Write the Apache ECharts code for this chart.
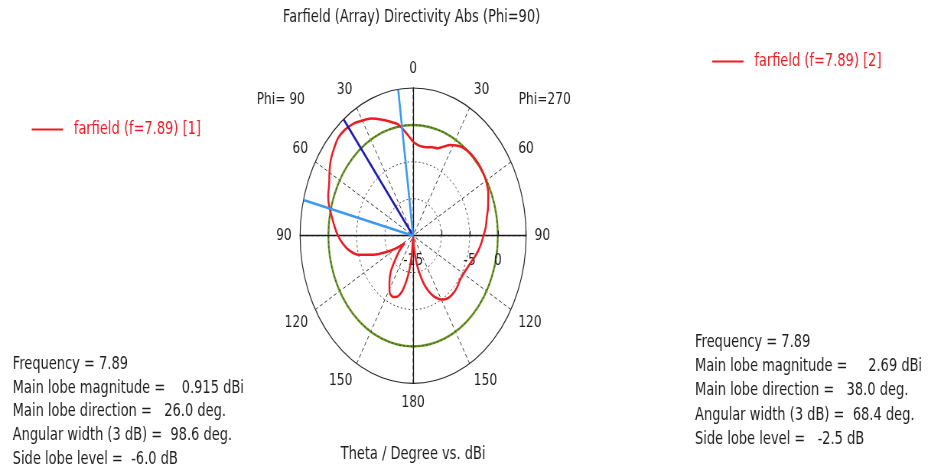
<!DOCTYPE html>
<html>
<head>
<meta charset="utf-8">
<script src="https://cdn.jsdelivr.net/npm/echarts@6/dist/echarts.min.js"></script>
<style>
  html, body { margin: 0; padding: 0; background: #ffffff; overflow: hidden; }
  #stage { width: 932px; height: 464px; overflow: hidden; position: relative; }
  /* the plot is drawn on a wider canvas and squeezed horizontally */
  #chart { width: 1218px; height: 464px; transform: scaleX(0.765); transform-origin: 0 0; }
</style>
</head>
<body>
<div id="stage"><div id="chart"></div></div>
<script>
// Farfield cut, theta in degrees on each half-plane, directivity in dBi
const phi90Theta = [0, 5, 10, 15, 20, 25, 30, 35, 40, 45, 50, 55, 60, 65, 70, 75, 80, 85, 90,
  95, 100, 105, 110, 115, 120, 124, 130, 136, 141, 147, 152, 157, 161, 166, 171, 175, 180];
const phi90Dbi = [-2.3, -1.05, 0.3, 1.0, 1.75, 2.5, 3.0, 3.5, 3.75, 3.75, 3.3, 2.8, 2.1, 1.4, 1.0, 0.4, -0.4, -1.05, -1.7,
  -2.5, -3.5, -5.0, -7.5, -9.8, -11.7, -13.2, -11.8, -10.4, -8.7, -7.3, -6.2, -6.0, -6.25, -7.4, -9.8, -12.5, -15];

const phi270Theta = [0, 4, 8, 12, 16, 20, 24, 28, 32, 36, 42, 47, 52, 57, 61, 66, 70, 75, 79, 85, 90,
  95, 100, 105, 110, 115, 120, 126, 132, 137, 143, 148, 152, 156, 160, 164, 168, 171, 175, 180];
const phi270Dbi = [-2.3, -2.7, -2.85, -2.75, -2.55, -2.4, -1.8, -1.1, -0.6, -0.2, 0.05, 0.12, 0.1, 0.0, -0.15, -0.45, -0.85, -1.3, -1.7, -2.1, -2.55,
  -2.9, -3.3, -3.75, -4.2, -4.5, -4.7, -4.75, -4.55, -4.45, -4.5, -4.8, -5.3, -6.0, -7.0, -8.3, -10.0, -11.5, -13.5, -15];

// radial scale (dBi) and the labelled rings
const radiusMin = -15;
const radiusMax = 5;
const radiusStep = 5;
const radiusLabelValues = [-15, -5, 0];
const referenceRing = 0;

// theta ticks
const thetaStep = 30;

// main lobe markers
const mainLobeDirection = 38.0;
const beamEdges = [7.6, 76.0];

const seriesNames = ['farfield (f=7.89) [1]', 'farfield (f=7.89) [2]'];

const statsLeft = [
  'Frequency = 7.89',
  'Main lobe magnitude =    0.915 dBi',
  'Main lobe direction =   26.0 deg.',
  'Angular width (3 dB) =  98.6 deg.',
  'Side lobe level =  -6.0 dB'
];
const statsRight = [
  'Frequency = 7.89',
  'Main lobe magnitude =     2.69 dBi',
  'Main lobe direction =   38.0 deg.',
  'Angular width (3 dB) =  68.4 deg.',
  'Side lobe level =   -2.5 dB'
];

const FONT = 'DejaVu Sans';
const RED = '#ec1c24';
const TEXT = '#1e1e1e';
const CENTER = [540, 235.7];
const RADIUS = 147.7;

// angle-axis value: Phi=90 half runs 0..180 counter-clockwise from the top,
// Phi=270 half runs the other way round
function angleOf(theta, side) {
  if (side === 90) return theta;
  return theta <= 90 ? -theta : 360 - theta;
}

const redData = [];
phi90Theta.forEach((t, i) => redData.push([Math.max(phi90Dbi[i], radiusMin), angleOf(t, 90)]));
for (let i = phi270Theta.length - 1; i >= 0; i--) {
  redData.push([Math.max(phi270Dbi[i], radiusMin), angleOf(phi270Theta[i], 270)]);
}

function ray(angle) {
  return [[radiusMin, angle], [radiusMax, angle]];
}

const ringCount = Math.round((radiusMax - radiusMin) / radiusStep) + 1;
const ringColors = [];
const greenColors = [];
for (let i = 0; i < ringCount; i++) {
  const v = radiusMin + i * radiusStep;
  ringColors.push(v === radiusMax ? 'rgba(0,0,0,0)' : '#3a3a3a');
  greenColors.push(v === referenceRing ? '#6a9a24' : 'rgba(0,0,0,0)');
}

function hiddenAngleAxis(polarIndex, startAngle) {
  return {
    polarIndex, type: 'value', min: -90, max: 270, interval: thetaStep,
    startAngle, clockwise: false,
    axisLine: { show: false }, axisTick: { show: false },
    axisLabel: { show: false }, splitLine: { show: false }
  };
}

const polars = [];
for (let i = 0; i < 5; i++) polars.push({ center: CENTER, radius: RADIUS });

const option = {
  animation: false,
  backgroundColor: '#ffffff',
  textStyle: { fontFamily: FONT },
  title: [
    { text: 'Farfield (Array) Directivity Abs (Phi=90)', left: 538, top: 9, textAlign: 'center', padding: 0,
      textStyle: { fontFamily: FONT, fontSize: 17, fontWeight: 'normal', color: TEXT } },
    { text: 'Phi= 90', left: 367, top: 92, textAlign: 'center', padding: 0,
      textStyle: { fontFamily: FONT, fontSize: 16, fontWeight: 'normal', color: TEXT } },
    { text: 'Phi=270', left: 712, top: 92, textAlign: 'center', padding: 0,
      textStyle: { fontFamily: FONT, fontSize: 16, fontWeight: 'normal', color: TEXT } },
    { text: 'Theta / Degree vs. dBi', left: 540, top: 446, textAlign: 'center', padding: 0,
      textStyle: { fontFamily: FONT, fontSize: 17, fontWeight: 'normal', color: TEXT } },
    { text: statsLeft.join('\n'), left: 16.6, top: 352.8, padding: 0,
      textStyle: { fontFamily: FONT, fontSize: 17, fontWeight: 'normal', color: TEXT, lineHeight: 23.7 } },
    { text: statsRight.join('\n'), left: 908.5, top: 330.6, padding: 0,
      textStyle: { fontFamily: FONT, fontSize: 17, fontWeight: 'normal', color: TEXT, lineHeight: 24.15 } }
  ],
  legend: [
    { data: [seriesNames[0]], left: 41.4, top: 121, padding: 0, orient: 'horizontal',
      icon: 'rect', itemWidth: 41, itemHeight: 2.2, selectedMode: false,
      textStyle: { color: RED, fontFamily: FONT, fontSize: 17, padding: [0, 0, 0, 9] } },
    { data: [seriesNames[1]], left: 931, top: 53, padding: 0, orient: 'horizontal',
      icon: 'rect', itemWidth: 41, itemHeight: 2.2, selectedMode: false,
      textStyle: { color: RED, fontFamily: FONT, fontSize: 17, padding: [0, 0, 0, 9] } }
  ],
  polar: polars,
  angleAxis: [
    {
      polarIndex: 0, type: 'value', min: -90, max: 270, interval: thetaStep,
      startAngle: 0, clockwise: false,
      axisLine: { show: true, lineStyle: { color: '#2a2a2a', width: 1.2 } },
      axisTick: { show: false },
      axisLabel: {
        show: true, margin: 11, color: TEXT, fontFamily: FONT, fontSize: 16,
        formatter: v => String(v < 0 ? -v : (v > 180 ? 360 - v : v))
      },
      splitLine: { show: true, lineStyle: { color: '#3a3a3a', width: 1, type: [4, 3] } }
    },
    hiddenAngleAxis(1, 0),
    hiddenAngleAxis(2, 90),
    hiddenAngleAxis(3, 180),
    hiddenAngleAxis(4, 270)
  ],
  radiusAxis: [
    {
      polarIndex: 0, type: 'value', min: radiusMin, max: radiusMax, interval: radiusStep, z: 2,
      axisLine: { show: true, lineStyle: { color: '#1a1a1a', width: 1.3 } },
      axisTick: { show: true, length: 5, lineStyle: { color: '#1a1a1a', width: 1.2 } },
      axisLabel: {
        show: true, margin: -25, verticalAlign: 'middle', color: TEXT, fontFamily: FONT, fontSize: 16,
        formatter: v => radiusLabelValues.indexOf(v) >= 0 ? String(v) : ''
      },
      splitLine: { show: true, lineStyle: { color: ringColors, width: 1, type: [2, 3] } }
    },
    {
      polarIndex: 1, type: 'value', min: radiusMin, max: radiusMax, interval: radiusStep, z: 1,
      axisLine: { show: false }, axisTick: { show: false }, axisLabel: { show: false },
      splitLine: { show: true, lineStyle: { color: greenColors, width: 2.5, type: 'solid' } }
    },
    ...[2, 3, 4].map(p => ({
      polarIndex: p, type: 'value', min: radiusMin, max: radiusMax, z: 2,
      axisLine: { show: true, lineStyle: { color: '#1a1a1a', width: 1.3 } },
      axisTick: { show: false }, axisLabel: { show: false }, splitLine: { show: false }
    }))
  ],
  series: [
    { name: seriesNames[0], type: 'line', coordinateSystem: 'polar', polarIndex: 0,
      data: [], color: RED, showSymbol: false, lineStyle: { color: RED, width: 2.2 } },
    { name: seriesNames[1], type: 'line', coordinateSystem: 'polar', polarIndex: 0,
      data: redData, color: RED, showSymbol: false, smooth: 0.25, z: 3,
      lineStyle: { color: RED, width: 2.5 } },
    { name: 'main lobe', type: 'line', coordinateSystem: 'polar', polarIndex: 0, silent: true,
      data: ray(mainLobeDirection), showSymbol: false, z: 4,
      lineStyle: { color: '#1c1cb4', width: 2.6 } },
    { name: 'beam edge a', type: 'line', coordinateSystem: 'polar', polarIndex: 0, silent: true,
      data: ray(beamEdges[0]), showSymbol: false, z: 4,
      lineStyle: { color: '#3c98f0', width: 2.6 } },
    { name: 'beam edge b', type: 'line', coordinateSystem: 'polar', polarIndex: 0, silent: true,
      data: ray(beamEdges[1]), showSymbol: false, z: 4,
      lineStyle: { color: '#3c98f0', width: 2.6 } }
  ]
};

const chart = echarts.init(document.getElementById('chart'), null, { renderer: 'canvas' });
chart.setOption(option);
</script>
</body>
</html>
